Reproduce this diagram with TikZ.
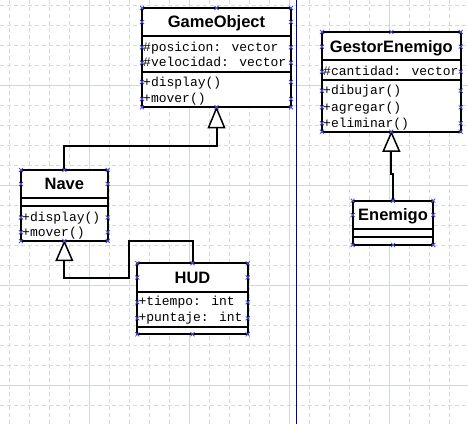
\documentclass[tikz,border=0pt]{standalone}
\usepackage{fontspec}
\usetikzlibrary{calc}
\setmainfont{Liberation Sans}
\newfontfamily\monof{Liberation Mono}
\definecolor{gridd}{RGB}{214,218,218}
\definecolor{grids}{RGB}{208,216,216}
\definecolor{divblue}{RGB}{0,0,170}
\definecolor{cpcol}{RGB}{80,80,220}
\newcommand\cpmark[2]{\draw[cpx] (#1-2,#2-2) -- (#1+2,#2+2) (#1-2,#2+2) -- (#1+2,#2-2);}
\tikzset{
  gridline/.style={draw=gridd, line width=1pt, dash pattern=on 4pt off 3pt},
  gridsolid/.style={draw=grids, line width=1pt},
  divline/.style={draw=divblue, line width=1.5pt},
  cls/.style={draw=black, line width=2pt, fill=white, inner sep=0pt, rectangle},
  sepline/.style={draw=black, line width=2pt},
  ttl/.style={font=\fontsize{16.5}{18}\selectfont\bfseries, inner sep=0pt, anchor=base},
  mono/.style={font=\monof\fontsize{13}{15}\selectfont, inner sep=0pt, anchor=base west},
  conn/.style={draw=black, line width=2pt, line join=miter},
  tri/.style={draw=black, fill=white, line width=1.5pt, line join=miter},
  cpx/.style={draw=cpcol, line width=0.8pt},
}
\begin{document}
\begin{tikzpicture}[x=1pt,y=-1pt]
\useasboundingbox (0,0) rectangle (468,424);
\fill[white] (0,0) rectangle (468,424);
% grid
\foreach \x in {9,29,...,449} \draw[gridline] (\x,0) -- (\x,424);
\foreach \y in {5,25,...,405} \draw[gridline] (0,\y) -- (468,\y);
\foreach \x in {89,189,289,389} \draw[gridsolid] (\x,0) -- (\x,424);
\foreach \y in {85,185,285,385} \draw[gridsolid] (0,\y) -- (468,\y);
\draw[divline] (296.3,0) -- (296.3,424);

% GameObject
\node[cls, minimum width=149pt, minimum height=99.3pt] (go) at (216.5,57.65) {};
\draw[sepline] (go.west |- 0,36) -- (go.east |- 0,36);
\draw[sepline] (go.west |- 0,72) -- (go.east |- 0,72);
\node[ttl] (got) at (216.5,27.7) {GameObject};
\node[mono] (goa1) at (143,51.3) {\#posicion: vector};
\node[mono] (goa2) at (143,66.7) {\#velocidad: vector};
\node[mono] (gom1) at (143,86.7) {+display()};
\node[mono] (gom2) at (143,102) {+mover()};

% GestorEnemigo
\node[cls, minimum width=138.7pt, minimum height=99.7pt] (ge) at (391.35,81.85) {};
\draw[sepline] (ge.west |- 0,60) -- (ge.east |- 0,60);
\draw[sepline] (ge.west |- 0,80) -- (ge.east |- 0,80);
\node[ttl] (get) at (391.35,52.8) {GestorEnemigo};
\node[mono] (gea1) at (323,75.5) {\#cantidad: vector};
\node[mono] (gem1) at (323,94.7) {+dibujar()};
\node[mono] (gem2) at (323,111) {+agregar()};
\node[mono] (gem3) at (323,127) {+eliminar()};

% Nave
\node[cls, minimum width=86.7pt, minimum height=71pt] (nv) at (64.35,205.5) {};
\draw[sepline] (nv.west |- 0,198) -- (nv.east |- 0,198);
\draw[sepline] (nv.west |- 0,205.7) -- (nv.east |- 0,205.7);
\node[ttl] (nvt) at (64.35,189.9) {Nave};
\node[mono] (nvm1) at (22,221.5) {+display()};
\node[mono] (nvm2) at (22,236.3) {+mover()};

% HUD
\node[cls, minimum width=110.4pt, minimum height=71pt] (hud) at (192.5,298.8) {};
\draw[sepline] (hud.west |- 0,291.7) -- (hud.east |- 0,291.7);
\draw[sepline] (hud.west |- 0,327.3) -- (hud.east |- 0,327.3);
\node[ttl] (hudt) at (192.5,283.4) {HUD};
\node[mono] (huda1) at (138.3,305.5) {+tiempo: int};
\node[mono] (huda2) at (138.3,321.5) {+puntaje: int};

% Enemigo
\node[cls, minimum width=80.6pt, minimum height=44.3pt] (en) at (393,222.85) {};
\draw[sepline] (en.west |- 0,229) -- (en.east |- 0,229);
\draw[sepline] (en.west |- 0,236.7) -- (en.east |- 0,236.7);
\node[ttl] (ent) at (393,220.75) {Enemigo};

% connectors
\coordinate (goTri) at ($(go.south)+(0,19.3)$);
\coordinate (nvTri) at ($(nv.south)+(0,18.3)$);
\coordinate (geTri) at ($(ge.south)+(0,18.3)$);
\draw[conn] (nv.north) -- ++(0,-23) -| (goTri);
\draw[conn] (hud.north) -- ++(0,-21.3) -- ++(-63.5,0) -- ++(0,37) -| (nvTri);
\draw[conn] (en.north) -- ++(0,-25.7) -| (geTri);
\draw[tri] (go.south) -- ++(-8,19.3) -- ++(16,0) -- cycle;
\draw[tri] (nv.south) -- ++(-8,18.3) -- ++(16,0) -- cycle;
\draw[tri] (ge.south) -- ++(-8,18.3) -- ++(16,0) -- cycle;

% connection points
\foreach \y in {8,22,47.3,62.7,82,99,107.3} {\cpmark{142}{\y}\cpmark{291}{\y}}
\cpmark{216.5}{8}\cpmark{216.5}{107.3}
\foreach \y in {32,46.7,71.7,90.7,107.3,123.3,131.7} {\cpmark{322}{\y}\cpmark{460.7}{\y}}
\cpmark{391.35}{32}\cpmark{391.35}{131.7}
\foreach \y in {170,184,217.5,232.3,241} {\cpmark{21}{\y}\cpmark{107.7}{\y}}
\cpmark{64.35}{170}\cpmark{64.35}{241}
\foreach \y in {263.3,277.5,302.3,318.3,334.3} {\cpmark{137.3}{\y}\cpmark{247.7}{\y}}
\cpmark{192.5}{263.3}\cpmark{192.5}{334.3}
\foreach \y in {200.7,215,245} {\cpmark{352.7}{\y}\cpmark{433.3}{\y}}
\cpmark{393}{200.7}\cpmark{393}{245}
\end{tikzpicture}
\end{document}
